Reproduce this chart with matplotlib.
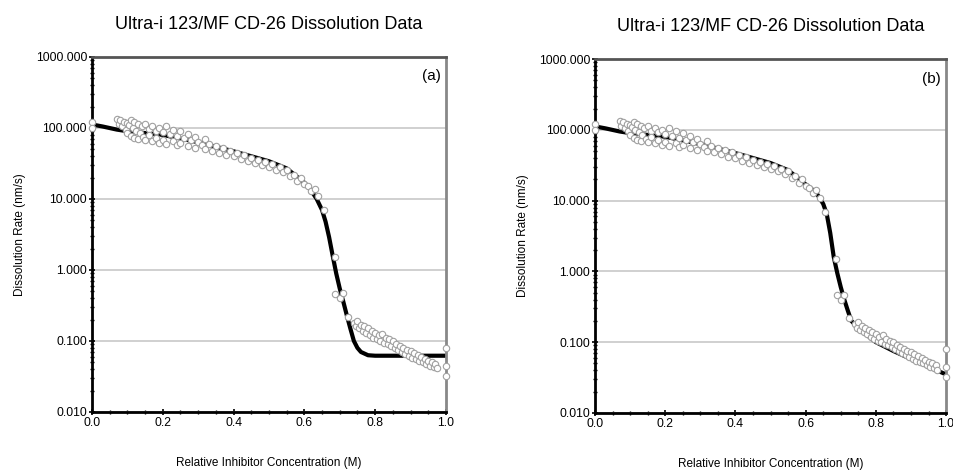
import numpy as np
import matplotlib.pyplot as plt
from matplotlib.ticker import LogLocator, FixedLocator, MultipleLocator, FormatStrFormatter

plt.rcParams['font.family'] = ['Liberation Sans', 'DejaVu Sans']

# measured dissolution data (same in both panels)
conc = [0.0, 0.0,
        0.07, 0.075, 0.08, 0.085, 0.09, 0.095, 0.10, 0.10, 0.105, 0.11, 0.11, 0.115, 0.12, 0.12,
        0.125, 0.13, 0.13, 0.135, 0.14, 0.145, 0.15, 0.15, 0.16, 0.16, 0.17, 0.17, 0.18, 0.18,
        0.19, 0.19, 0.20, 0.20, 0.21, 0.21, 0.22, 0.23, 0.23, 0.24, 0.24, 0.25, 0.25, 0.26,
        0.27, 0.27, 0.28, 0.29, 0.29, 0.30, 0.31, 0.32, 0.32, 0.33, 0.34, 0.35, 0.36, 0.37,
        0.38, 0.39, 0.40, 0.41, 0.42, 0.43, 0.44, 0.45, 0.46, 0.47, 0.48, 0.49, 0.50, 0.51,
        0.52, 0.53, 0.54, 0.55, 0.56, 0.57, 0.58, 0.59, 0.60, 0.61, 0.62, 0.63, 0.64, 0.655,
        0.686, 0.688, 0.70, 0.71, 0.723,
        0.74, 0.745, 0.75, 0.755, 0.76, 0.765, 0.77, 0.775, 0.78, 0.785, 0.79, 0.795, 0.80,
        0.805, 0.81, 0.815, 0.82, 0.825, 0.83, 0.835, 0.84, 0.845, 0.85, 0.855, 0.86, 0.865,
        0.87, 0.875, 0.88, 0.885, 0.89, 0.895, 0.90, 0.905, 0.91, 0.915, 0.92, 0.925, 0.93,
        0.935, 0.94, 0.945, 0.95, 0.955, 0.96, 0.965, 0.97, 0.975, 1.0, 1.0, 1.0]
rate = [120, 100,
        135, 115, 128, 105, 122, 95, 118, 85, 110, 128, 78, 100, 120, 72,
        92, 112, 70, 85, 105, 75, 115, 68, 98, 80, 108, 65, 92, 72,
        100, 62, 88, 68, 105, 60, 82, 95, 65, 78, 57, 90, 62, 72,
        82, 55, 68, 75, 52, 64, 58, 70, 50, 60, 48, 55, 45, 52,
        42, 48, 40, 44, 36, 42, 34, 38, 32, 35, 30, 33, 28, 31,
        26, 28, 24, 26, 21, 22, 18, 20, 16, 15, 13, 14, 11, 7,
        1.5, 0.46, 0.40, 0.47, 0.22,
        0.18, 0.16, 0.19, 0.15, 0.17, 0.14, 0.16, 0.13, 0.15, 0.12, 0.14, 0.11, 0.13,
        0.105, 0.12, 0.10, 0.125, 0.095, 0.11, 0.09, 0.105, 0.085, 0.10, 0.08, 0.09, 0.075,
        0.085, 0.07, 0.08, 0.066, 0.075, 0.062, 0.072, 0.058, 0.068, 0.055, 0.064, 0.052, 0.06,
        0.05, 0.056, 0.047, 0.053, 0.045, 0.05, 0.043, 0.048, 0.041, 0.08, 0.045, 0.032]

# model fit curves
fit_a_x = [0.0, 0.03, 0.07, 0.10, 0.20, 0.30, 0.40, 0.45, 0.50, 0.55, 0.60, 0.62, 0.635,
           0.65, 0.66, 0.67, 0.68, 0.69, 0.70, 0.71, 0.72, 0.73, 0.74, 0.75, 0.76, 0.78, 0.80, 1.0]
fit_a_y = [112, 105, 95, 90, 80, 63, 47, 40, 34, 27, 17, 13, 10,
           7, 4.8, 2.9, 1.6, 0.9, 0.55, 0.36, 0.23, 0.15, 0.1, 0.08, 0.07, 0.063, 0.062, 0.062]
fit_b_x = [0.0, 0.03, 0.07, 0.10, 0.20, 0.30, 0.40, 0.45, 0.50, 0.55, 0.60, 0.63, 0.65,
           0.66, 0.67, 0.68, 0.69, 0.70, 0.71, 0.72, 0.73, 0.75, 0.78, 0.80, 0.85, 0.90, 0.95, 1.0]
fit_b_y = [112, 105, 95, 90, 80, 63, 47, 40, 34, 27, 17, 13, 9,
           6.5, 3.5, 1.6, 0.95, 0.6, 0.4, 0.28, 0.2, 0.16, 0.12, 0.1, 0.075, 0.058, 0.045, 0.035]

yticks = [0.01, 0.1, 1, 10, 100, 1000]
xticks = [0.0, 0.2, 0.4, 0.6, 0.8, 1.0]
title = 'Ultra-i 123/MF CD-26 Dissolution Data'

fig = plt.figure(figsize=(9.54, 4.73), dpi=100)
ax_a = fig.add_axes([0.0964, 0.129, 0.371, 0.7505])
ax_b = fig.add_axes([0.6237, 0.127, 0.368, 0.748])

for ax, fx, fy, tag in [(ax_a, fit_a_x, fit_a_y, '(a)'), (ax_b, fit_b_x, fit_b_y, '(b)')]:
    ax.set_yscale('log')
    ax.set_xlim(0, 1)
    ax.set_ylim(0.01, 1000)
    ax.plot(fx, fy, color='black', lw=3, zorder=2, solid_capstyle='butt')
    ax.plot(conc, rate, 'o', ms=4.6, mfc='white', mec='#a0a0a0', mew=0.8, zorder=3, clip_on=False)
    ax.yaxis.set_major_locator(FixedLocator(yticks))
    ax.yaxis.set_minor_locator(LogLocator(base=10, subs=np.arange(2, 10)))
    ax.yaxis.set_major_formatter(FormatStrFormatter('%.3f'))
    ax.yaxis.set_minor_formatter(plt.NullFormatter())
    ax.xaxis.set_major_locator(FixedLocator(xticks))
    ax.xaxis.set_minor_locator(MultipleLocator(0.05))
    ax.xaxis.set_major_formatter(FormatStrFormatter('%.1f'))
    ax.grid(axis='y', which='major', color='#c8c8c8', lw=1.2, zorder=0)
    ax.tick_params(which='major', direction='inout', length=5, width=1.2, labelsize=8.8, pad=1)
    ax.tick_params(which='minor', direction='inout', length=3, width=1)
    for s in ['left', 'bottom']:
        ax.spines[s].set_linewidth(2)
        ax.spines[s].set_color('black')
    ax.spines['top'].set_linewidth(2)
    ax.spines['top'].set_color('#555555')
    ax.spines['right'].set_linewidth(2)
    ax.spines['right'].set_color('#888888')
    ax.set_title(title, fontsize=13, pad=20)
    ax.set_xlabel('Relative Inhibitor Concentration (M)', fontsize=8.5, labelpad=20)
    ax.set_ylabel('Dissolution Rate (nm/s)', fontsize=8.5, labelpad=7)
    ax.text(0.985, 0.965, tag, transform=ax.transAxes, ha='right', va='top', fontsize=11)

fig.savefig('out.png', dpi=100)
